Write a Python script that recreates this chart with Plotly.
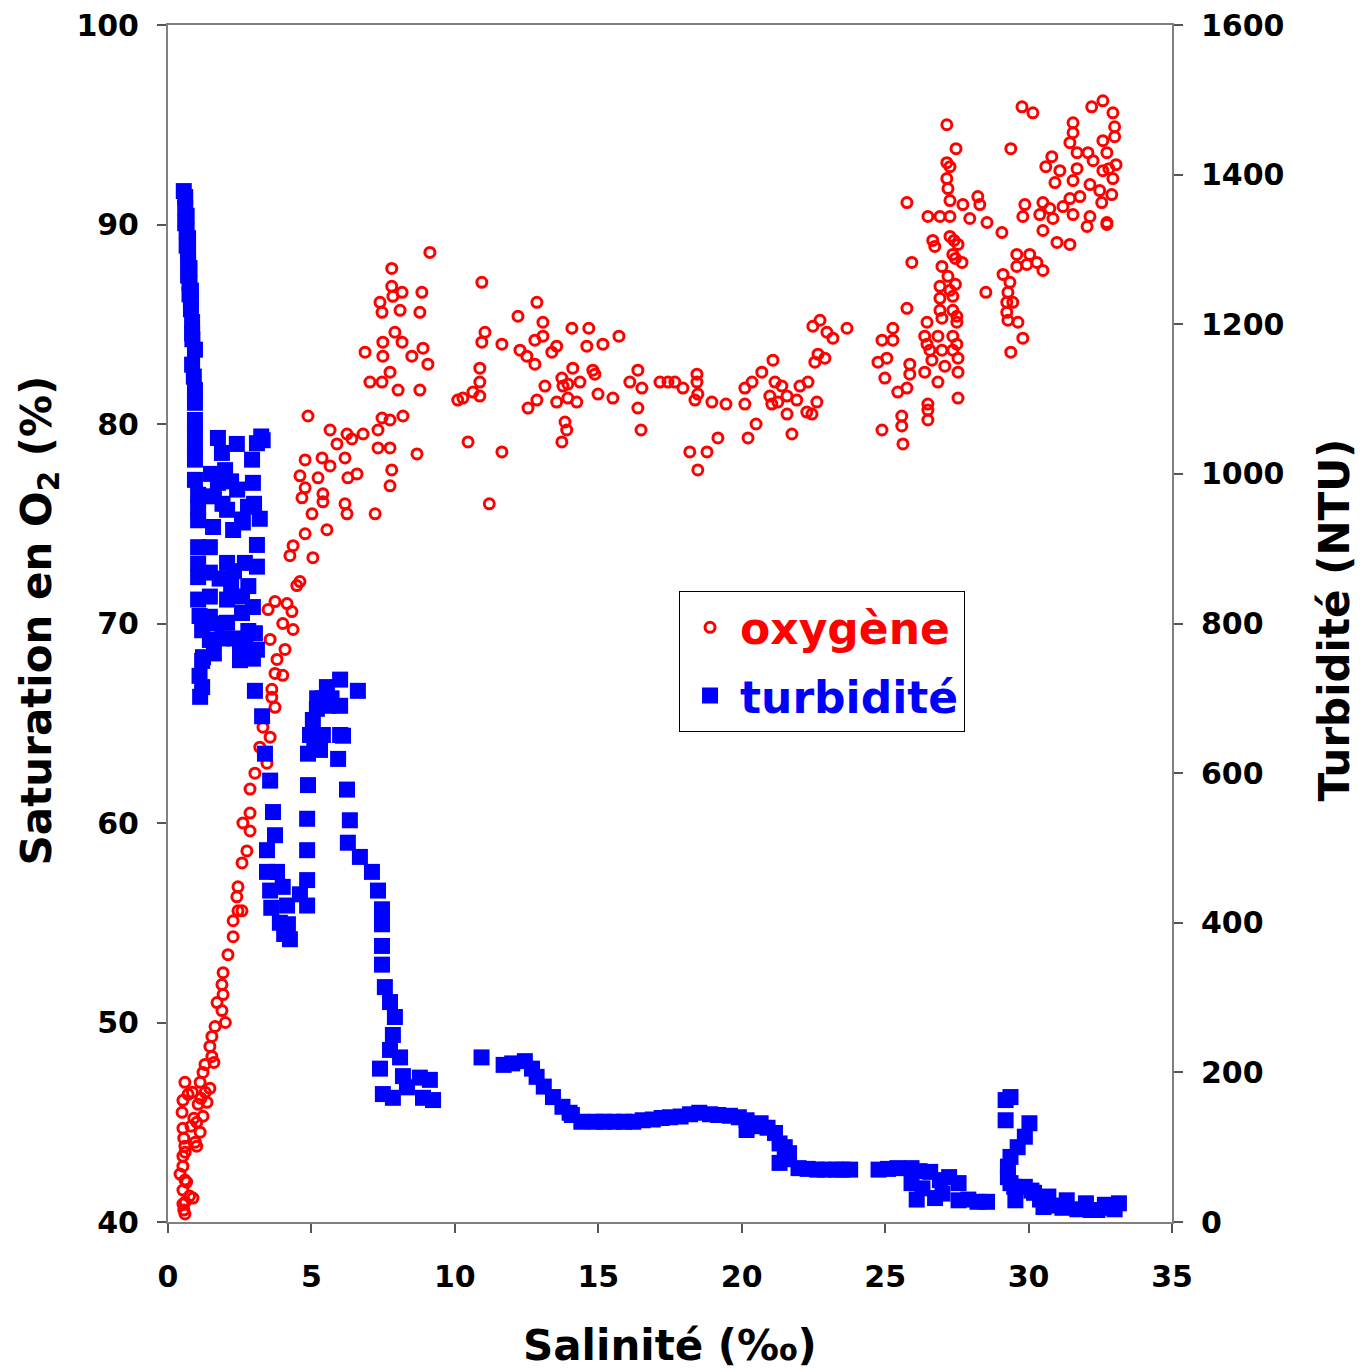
import plotly.graph_objects as go

# ---- oxygène (axe gauche, % saturation) ----
sal_o2 = [
    0.55, 0.59, 0.52, 0.6, 0.52, 0.87, 0.75, 0.59, 0.42, 0.52, 0.65, 0.52, 0.6, 0.59, 1.0, 0.55,
    0.52, 1.12, 0.8, 0.49, 0.9, 1.22, 0.52, 1.05, 1.36, 0.85, 0.59, 1.12, 1.46, 0.7, 1.22, 1.29,
    1.53, 1.46, 1.53, 1.64, 1.88, 1.71, 1.92, 1.88, 1.92, 2.09, 2.27, 2.27, 2.44, 2.58, 2.4, 2.44,
    2.58, 2.75, 2.86, 2.61, 2.86, 2.86, 3.03, 3.45, 3.2, 3.56, 3.31, 3.73, 3.62, 3.62, 3.73, 4.0,
    3.8, 4.08, 3.56, 4.36, 4.0, 3.49, 4.32, 3.73, 4.15, 4.49, 4.6, 2.0, 1.6, 1.3, 1.0, 0.95, 1.15,
    4.25, 5.05, 4.36, 4.78, 5.54, 5.02, 6.24, 7.22, 6.17, 4.67, 5.4, 5.4, 4.78, 7.74, 4.6, 5.23,
    6.27, 6.59, 7.8, 5.65, 4.78, 5.37, 6.17, 8.68, 7.32, 7.74, 5.89, 6.41, 5.65, 6.24, 6.8, 7.32,
    4.88, 7.46, 7.74, 8.19, 10.1, 8.02, 8.78, 7.04, 7.46, 7.74, 9.06, 7.49, 8.5, 6.87, 8.89, 7.49,
    8.16, 7.91, 7.46, 8.09, 8.78, 7.39, 7.84, 8.16, 8.85, 7.8, 7.8, 9.13,
    10.94, 11.05, 10.94, 11.64, 12.2, 12.86, 13.07, 13.07, 12.79, 12.27, 12.51, 12.79, 13.38, 13.55,
    14.08, 14.67, 15.16, 14.6, 15.72, 10.87, 10.87, 10.63, 10.28, 10.87, 13.14, 12.86, 12.55, 13.73,
    13.77, 13.94, 14.11, 14.36, 13.55, 13.94, 14.25, 14.81, 14.88, 14.99, 15.51, 13.84, 13.9, 13.73,
    10.46, 11.64, 11.2,
    16.1, 16.38, 16.52, 16.38, 16.49, 17.15, 17.43, 17.67, 17.95, 18.44, 18.44, 18.47, 18.37, 18.96,
    19.45, 18.19, 18.79, 18.47, 19.17, 20.11, 20.11, 20.22, 20.5, 20.36, 20.7, 21.09, 21.16, 21.4,
    20.98, 21.05, 21.26, 21.58, 21.58, 21.75, 21.92, 22.03, 22.31, 22.27, 22.62, 22.48, 22.73, 22.97,
    23.18, 23.67, 22.66, 22.55, 22.9, 22.45,
    32.59, 32.2, 32.94, 29.77, 30.15, 27.15, 31.55, 31.55, 33.0, 33.0, 32.59, 31.44, 32.73, 29.38,
    27.47, 27.15, 27.26, 30.81, 30.6, 31.69, 32.07, 32.25, 31.09, 31.69, 32.59, 32.94, 27.15, 30.92,
    31.55, 32.14, 32.48, 27.19, 27.26, 25.76, 28.23, 28.3, 27.71, 29.87, 30.5, 30.74, 31.44, 31.79,
    32.55, 31.2, 29.8, 30.39, 30.85, 31.55, 32.14, 32.73, 26.49, 26.91, 27.26, 27.95, 28.55, 29.07,
    30.5, 30.99, 31.44, 32.04, 26.66, 26.73, 27.26, 27.54, 27.36, 27.68, 25.93, 29.59, 30.04, 30.29,
    30.5, 29.94, 29.59, 29.11, 29.35, 29.28, 29.24, 29.45, 29.24, 29.28, 29.63, 29.8, 29.38, 28.51,
    26.98, 27.19, 26.91, 27.26, 26.91, 27.36, 26.91, 27.36, 26.98, 27.5, 26.46, 26.38, 26.84, 27.36,
    26.46, 26.56, 26.98, 27.36, 27.54, 27.08, 26.63, 26.38, 27.54, 26.84, 25.76, 25.27, 24.89, 25.27,
    25.06, 24.75, 25.86, 25.86, 24.99, 25.76, 25.44, 26.49, 26.49, 26.49, 25.58, 25.58, 24.89, 27.54,
    25.62, 27.45, 27.5, 27.5, 27.45, 27.4, 33.05, 32.9, 32.8, 32.73,
]
o2 = [
    40.6, 40.4, 40.9, 41.0, 41.6, 41.2, 41.3, 42.1, 42.4, 42.8, 42.0, 43.3, 43.5, 43.8, 43.8, 44.2,
    44.7, 44.5, 44.8, 45.5, 45.2, 45.3, 46.1, 45.9, 46.0, 46.5, 47.0, 47.0, 46.7, 46.4, 47.5, 47.9,
    48.3, 48.8, 49.3, 49.8, 50.6, 51.0, 51.4, 51.9, 52.5, 53.4, 54.3, 55.1, 55.6, 55.6, 56.3, 56.8,
    58.0, 58.6, 59.6, 60.0, 60.5, 61.7, 62.5, 63.0, 63.8, 64.3, 64.8, 65.8, 66.3, 66.7, 67.5, 67.4,
    68.2, 68.7, 69.2, 69.7, 70.0, 70.7, 70.6, 71.1, 71.0, 71.9, 72.1, 50.0, 48.0, 46.5, 45.0, 44.0, 46.2,
    73.4, 73.3, 73.9, 74.5, 74.7, 75.5, 75.5, 75.5, 76.0, 76.3, 76.1, 76.5, 76.8, 76.9, 77.4, 77.3,
    77.3, 77.5, 77.7, 77.9, 78.2, 78.3, 78.3, 78.5, 78.8, 78.8, 79.0, 79.25, 79.7, 79.5, 79.5, 79.7,
    80.4, 80.3, 80.2, 80.4, 81.2, 81.7, 81.7, 82.1, 82.1, 82.6, 83.0, 83.4, 83.4, 83.6, 83.8, 84.1,
    84.1, 84.6, 85.6, 85.7, 85.6, 86.1, 86.4, 86.6, 86.6, 86.9, 87.8, 88.6,
    87.1, 84.6, 84.1, 84.0, 85.4, 86.1, 85.1, 84.4, 84.2, 83.7, 83.4, 83.0, 83.6, 83.9,
    84.8, 84.8, 84.0, 83.9, 84.4, 82.8, 82.1, 81.6, 81.3, 81.4, 81.9, 81.2, 80.8, 82.3,
    81.9, 82.0, 82.8, 82.1, 81.1, 81.3, 81.1, 82.7, 82.5, 81.5, 81.3, 80.1, 79.7, 79.1,
    79.1, 78.6, 76.0,
    82.1, 82.7, 81.8, 80.8, 79.7, 82.1, 82.1, 82.1, 81.8, 82.5, 82.1, 81.5, 81.2, 81.1,
    81.0, 78.6, 78.6, 77.7, 79.3, 81.8, 81.0, 79.3, 80.0, 82.1, 82.6, 83.2, 82.1, 81.9,
    81.4, 81.0, 81.1, 81.4, 80.5, 79.5, 81.2, 81.9, 82.1, 80.6, 81.1, 84.9, 85.2, 84.6,
    84.3, 84.8, 83.5, 83.1, 83.3, 80.5,
    96.2, 95.9, 95.6, 95.9, 95.6, 95.0, 95.1, 94.6, 94.9, 94.4, 94.2, 94.1, 93.6, 93.8,
    93.8, 93.1, 92.9, 93.4, 92.9, 93.6, 93.6, 93.2, 92.7, 92.8, 92.7, 92.3, 92.3, 92.1,
    92.2, 92.0, 91.7, 91.8, 91.2, 91.1, 91.4, 91.0, 91.0, 91.0, 91.1, 90.8, 91.3, 91.4,
    91.1, 90.9, 90.4, 90.5, 90.3, 90.5, 90.4, 90.1, 90.4, 90.4, 90.4, 90.3, 90.1, 89.6,
    89.7, 89.1, 89.0, 89.9, 89.2, 88.9, 89.4, 89.0, 88.5, 88.1, 88.1, 88.5, 88.5, 88.1,
    87.7, 88.0, 87.9, 87.5, 87.1, 86.6, 86.1, 86.1, 85.6, 85.2, 85.1, 84.3, 83.6, 86.6,
    87.9, 87.4, 86.9, 86.7, 86.3, 86.4, 85.7, 85.7, 85.3, 85.1, 85.1, 84.4, 84.4, 84.4,
    84.0, 83.7, 83.7, 83.7, 83.3, 82.9, 83.2, 82.6, 82.6, 82.1, 85.8, 84.8, 84.2, 84.2,
    83.3, 83.1, 83.0, 82.5, 82.3, 81.8, 81.6, 81.0, 80.7, 80.2, 80.4, 79.9, 79.7, 81.3,
    79.0, 87.0, 85.4, 84.0, 88.3, 89.2, 93.0, 91.5, 92.8, 90.0,
]

# ---- turbidité (axe droit, NTU) ----
sal_turb = [
    0.55, 0.6, 0.6, 0.65, 0.6, 0.65, 0.7, 0.65, 0.7, 0.7, 0.75, 0.7, 0.75, 0.8, 0.75, 0.8,
    0.84, 0.84, 0.94, 0.84, 0.94, 0.94, 0.94, 0.94, 0.94, 0.94, 0.94, 1.05, 1.05, 1.05, 1.05,
    1.05, 1.05, 1.05, 1.1, 1.19, 1.22, 1.19, 1.19, 1.12, 1.1, 0.8, 0.85, 0.9,
    1.74, 1.88, 1.99, 1.74, 2.06, 1.57, 1.46, 1.46, 1.46, 1.46, 1.46, 2.06, 2.06, 2.06, 2.51,
    2.51, 2.61, 2.58, 2.58, 3.1, 2.93, 2.96, 2.79, 3.1, 3.1, 2.96, 3.03, 3.1, 2.41, 2.58, 2.27,
    2.68, 1.5, 1.6, 1.9, 2.2, 2.4, 2.3, 2.2, 1.8, 1.7, 1.9, 2.3, 2.8, 2.7, 1.6, 2.8, 3.0, 3.25,
    3.3, 3.2, 2.96, 3.03, 2.51,
    3.28, 3.38, 3.56, 3.66, 3.73, 3.45, 3.45, 3.56, 3.8, 4.0, 4.15, 4.18, 4.25, 4.6, 4.85, 4.85,
    4.85, 4.85, 4.88, 4.88, 4.95, 5.05, 5.19, 5.4, 5.54, 6.0, 6.62, 6.0, 6.0, 5.4, 5.3, 5.93,
    6.24, 6.34, 6.27, 6.69, 7.11, 7.32, 7.46, 7.46, 7.46, 7.46, 7.56, 7.74, 7.91, 7.84, 7.74,
    8.09, 7.39, 8.19, 8.78, 9.13, 7.49, 7.84, 8.89, 9.24, 8.33, 3.6, 3.9, 4.05, 5.2, 5.6, 5.1,
    5.7, 6.1,
    10.93, 11.7, 12.44, 12.69, 12.85, 13.1, 13.42, 13.75, 14.08, 14.41, 14.91, 15.56, 16.22, 16.55,
    17.21, 17.87, 18.52, 19.18, 19.59, 20.17, 20.17, 20.66, 21.16, 21.32, 21.65, 21.32, 21.98,
    22.63, 23.28, 23.78, 24.77, 25.43, 25.92, 25.92, 26.57, 26.91, 27.23, 27.56, 26.74, 27.56,
    28.22, 28.55, 29.2, 29.2, 29.37, 30.03, 29.87, 29.62, 29.37, 29.28, 29.28, 29.37, 29.87,
    30.19, 30.69, 31.33, 32.0, 32.66, 33.15, 29.54, 30.52, 31.18, 32.17, 32.83,
    12.0, 14.0, 15.2, 15.9, 16.9, 17.5, 18.2, 18.9, 19.9, 20.4, 20.9, 21.5, 21.6, 22.3, 22.9,
    23.5, 25.1, 26.2, 26.3, 27.0, 27.9, 26.1, 30.9, 31.7, 32.4, 33.0, 30.4, 30.1, 29.5,
]
turb = [
    1378, 1370, 1355, 1345, 1335, 1325, 1315, 1305, 1295, 1285, 1275, 1265, 1255, 1245, 1240, 1232,
    1203, 1188, 1166, 1146, 1112, 1095, 1072, 1055, 1035, 1019, 992, 972, 955, 938, 902,
    880, 862, 832, 810, 791, 755, 750, 715, 702, 730, 1220, 1180, 1130,
    1048, 1028, 1005, 988, 952, 929, 902, 868, 836, 809, 778, 881, 832, 801, 774,
    751, 935, 836, 814, 1041, 1019, 988, 956, 905, 876, 822, 787, 765, 979, 939, 925,
    881, 1000, 970, 960, 990, 1040, 870, 850, 860, 800, 780, 780, 790, 770, 760, 850, 960, 1050,
    1045, 940, 753, 710, 755,
    676, 626, 590, 548, 517, 497, 468, 443, 468, 448, 423, 398, 378, 438, 423, 457,
    497, 539, 584, 626, 651, 671, 686, 700, 715, 725, 710, 690, 651, 651, 631, 619,
    578, 537, 507, 488, 468, 443, 418, 398, 369, 344, 314, 294, 274, 250, 230,
    220, 205, 195, 193, 190, 171, 166, 166, 163, 180, 420, 400, 385, 700, 690, 640,
    700, 650,
    220, 210, 215, 205, 194, 181, 167, 154, 143, 134, 134, 134, 134, 136,
    139, 141, 146, 143, 142, 136, 123, 132, 119, 105, 92, 79, 72,
    70, 70, 70, 70, 72, 72, 52, 67, 56, 60, 52, 32, 29,
    27, 27, 136, 163, 167, 132, 114, 100, 87, 74, 60, 52, 47,
    39, 34, 29, 25, 23, 25, 29, 20, 19, 16, 19,
    212, 146, 134, 134, 137, 140, 144, 144, 140, 128, 126, 100, 84, 71, 70,
    70, 71, 68, 45, 38, 30, 30, 22, 17, 16, 17, 30, 42, 47,
]

FONT = 'DejaVu Sans'
tick_font = dict(family=FONT, size=30, color='black', weight='bold')
title_font = dict(family=FONT, size=42, color='black', weight='bold')

fig = go.Figure()

fig.add_trace(go.Scatter(
    x=sal_o2, y=o2, mode='markers',
    name='<span style="color:#ff0000">oxygène</span>',
    marker=dict(symbol='circle-open', size=10, color='#ff0000', line=dict(width=3)),
    legendrank=1, legendgroup='o2',
))
fig.add_trace(go.Scatter(
    x=sal_turb, y=turb, mode='markers', yaxis='y2',
    name='<span style="color:#0000ff">turbidité</span>',
    marker=dict(symbol='square', size=16, color='#0000ff', line=dict(width=0)),
    legendrank=2, legendgroup='turb',
))

axis_style = dict(
    showgrid=False, zeroline=False, showline=True, linecolor='#808080', linewidth=2,
    ticks='outside', ticklen=9, tickwidth=2, tickcolor='#555555',
    tickfont=tick_font,
    automargin=False, ticklabeloverflow='allow',
)

# la page ajoute un décalage de 8 px : marges corrigées en conséquence
fig.update_layout(
    width=1363, height=1372,
    margin=dict(l=160, r=199, t=17, b=158),
    plot_bgcolor='white', paper_bgcolor='white',
    xaxis=dict(range=[0, 35], tick0=0, dtick=5, mirror=True, ticklabelstandoff=18, **axis_style),
    yaxis=dict(range=[40, 100], tick0=40, dtick=10, ticklabelstandoff=12, **axis_style),
    yaxis2=dict(range=[0, 1600], tick0=0, dtick=200, overlaying='y', side='right',
                ticklabelstandoff=12, **axis_style),
    legend=dict(
        x=0.509, y=0.527, xanchor='left', yanchor='top',
        bgcolor='white', bordercolor='black', borderwidth=1,
        font=dict(family=FONT, size=44, weight='bold'),
        traceorder='grouped', tracegroupgap=8, itemwidth=50,
    ),
    annotations=[
        dict(text='Salinité (‰)', xref='paper', yref='paper', x=0.5, y=-0.103,
             xanchor='center', yanchor='middle', showarrow=False, font=title_font),
        dict(text='Saturation en O<sub>2</sub> (%)', xref='paper', yref='paper', x=-0.128, y=0.503,
             xanchor='center', yanchor='middle', textangle=-90, showarrow=False, font=title_font),
        dict(text='Turbidité (NTU)', xref='paper', yref='paper', x=1.162, y=0.503,
             xanchor='center', yanchor='middle', textangle=-90, showarrow=False, font=title_font),
    ],
)

fig.write_html("out.html")
